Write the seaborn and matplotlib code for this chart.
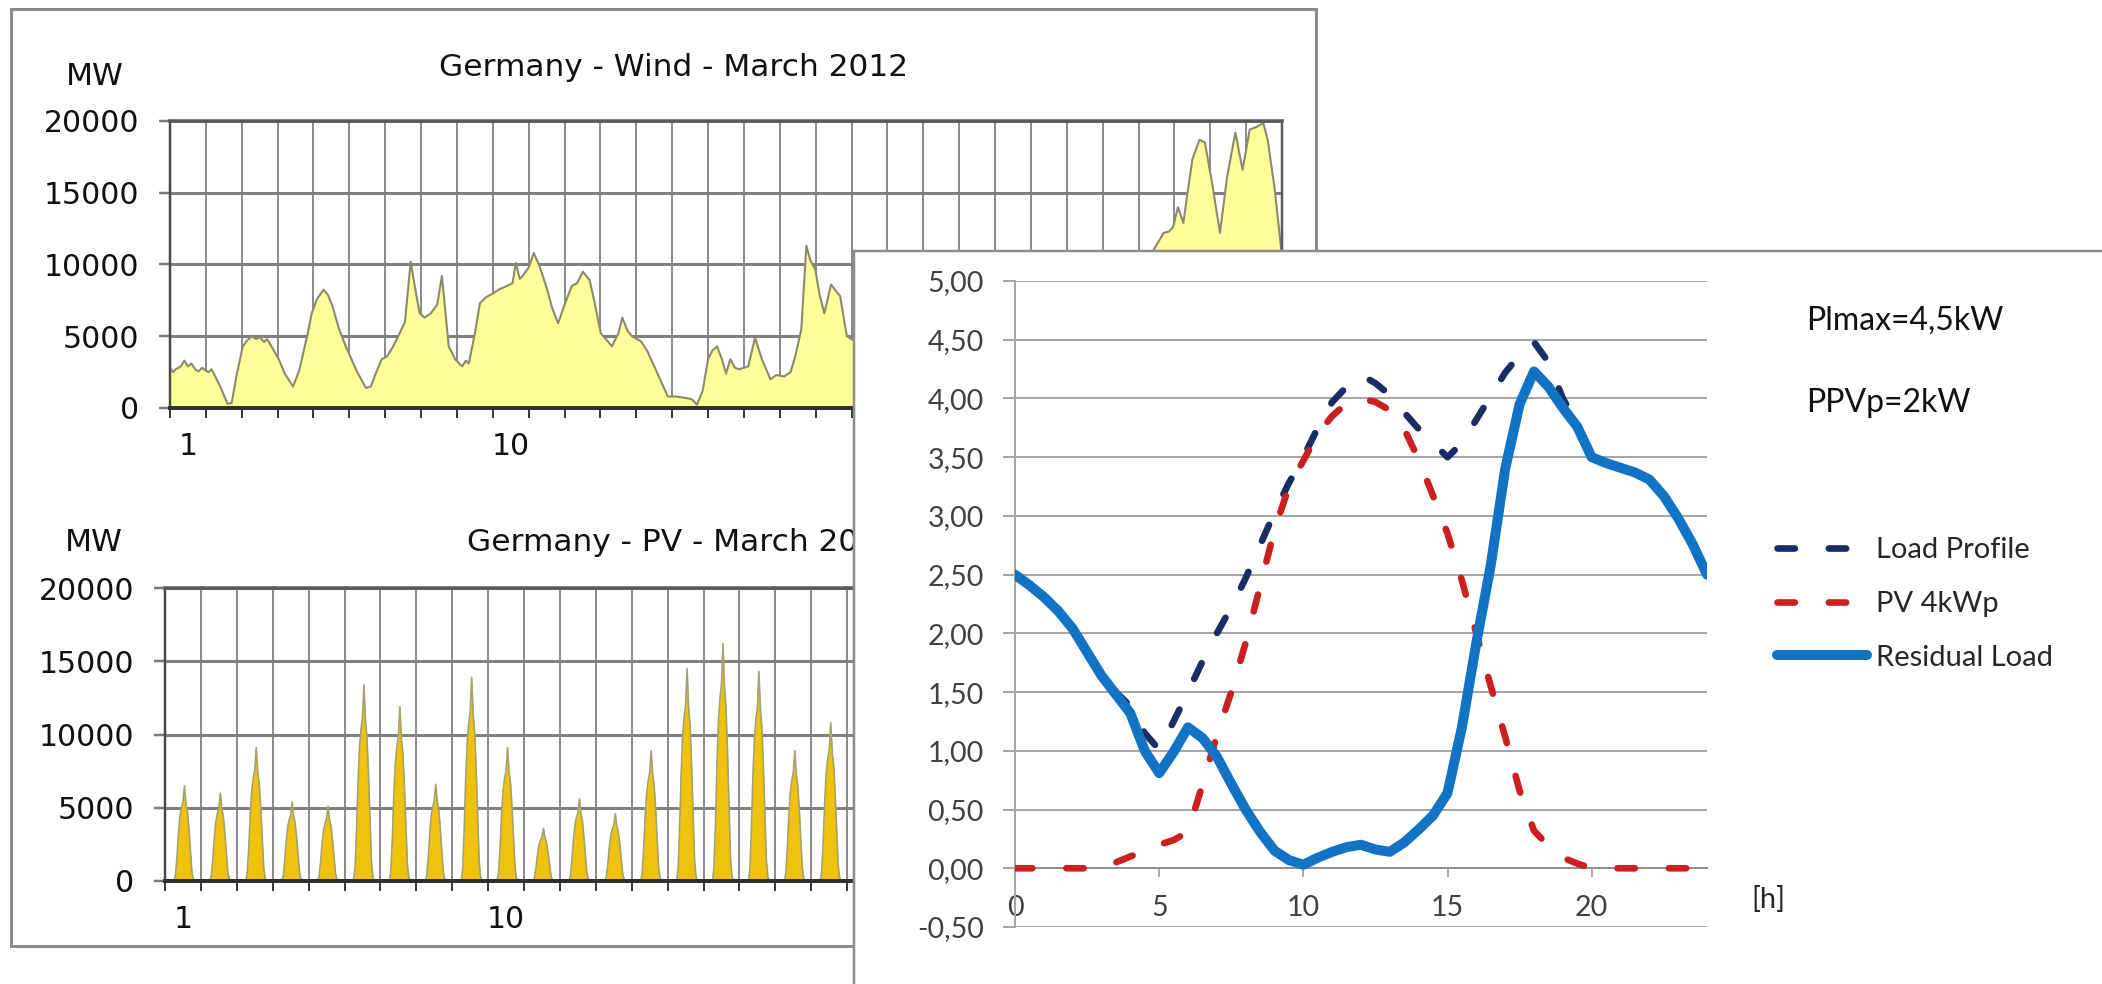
import numpy as np
import pandas as pd
import matplotlib
matplotlib.use("Agg")
import matplotlib.pyplot as plt
import seaborn as sns
from matplotlib.patches import Rectangle

# ---------------- data ----------------
# Germany wind, March 2012: position in days from start of month, MW
wind_day = [0.0, 0.08, 0.16, 0.3, 0.4, 0.5, 0.6, 0.7, 0.79, 0.9, 1.0, 1.08, 1.16, 1.4, 1.6, 1.72, 1.85,
            2.03, 2.15, 2.28, 2.4, 2.5, 2.62, 2.71, 2.85, 3.03, 3.2, 3.43, 3.6, 3.84, 3.95, 4.1, 4.28,
            4.4, 4.53, 4.7, 4.9, 5.2, 5.46, 5.6, 5.75, 5.9, 6.05, 6.2, 6.4, 6.55, 6.71, 6.8, 6.96, 7.1,
            7.27, 7.45, 7.58, 7.77, 7.95, 8.14, 8.25, 8.33, 8.5, 8.64, 8.8, 9.01, 9.2, 9.39, 9.55, 9.64,
            9.75, 9.83, 10.0, 10.14, 10.3, 10.51, 10.65, 10.82, 11.0, 11.2, 11.35, 11.51, 11.7, 11.85,
            12.01, 12.15, 12.32, 12.5, 12.61, 12.75, 12.88, 13.13, 13.3, 13.5, 13.7, 13.88, 14.1, 14.38,
            14.55, 14.69, 14.85, 15.0, 15.12, 15.25, 15.4, 15.5, 15.62, 15.75, 15.87, 16.0, 16.12, 16.31,
            16.5, 16.74, 16.9, 17.12, 17.3, 17.43, 17.6, 17.74, 17.85, 17.99, 18.1, 18.24, 18.43, 18.55,
            18.68, 18.87,
            19.2, 19.6, 20.1, 20.6, 21.2, 21.8, 22.4, 23.0, 23.6, 24.3, 24.9, 25.5, 26.2, 26.8, 27.3,
            27.7, 27.85, 27.96, 28.1, 28.25, 28.35, 28.5, 28.7, 28.85, 29.05, 29.27, 29.47, 29.7, 29.9,
            30.1, 30.3, 30.48, 30.6, 30.8, 31.0]
wind_mw = [2800, 2500, 2700, 2900, 3300, 2900, 3100, 2700, 2550, 2800, 2600, 2500, 2700, 1500, 300, 350,
           2200, 4300, 4700, 5000, 4800, 4950, 4600, 4800, 4200, 3400, 2400, 1500, 2600, 5200, 6600, 7600,
           8250, 7900, 7100, 5600, 4300, 2600, 1400, 1500, 2500, 3400, 3600, 4200, 5200, 6000, 10200,
           8800, 6600, 6300, 6600, 7200, 9200, 4300, 3400, 2900, 3300, 3100, 5200, 7300, 7700, 8000,
           8300, 8500, 8700, 10100, 9000, 9200, 9800, 10800, 9900, 8300, 7000, 5900, 7200, 8500, 8700,
           9500, 8900, 7200, 5200, 4800, 4300, 5200, 6300, 5400, 5000, 4650, 4000, 2900, 1800, 800, 800,
           700, 600, 230, 1200, 3400, 4000, 4300, 3300, 2400, 3400, 2800, 2700, 2800, 2900, 4900, 3400,
           2000, 2300, 2200, 2500, 3600, 5500, 11300, 10300, 9650, 8000, 6600, 8600, 8200, 7800, 5000,
           4500, 7000, 5500, 3000, 4500, 6500, 4000, 2500, 5000, 7500, 6000, 8000, 9500, 8500, 10500,
           12200, 12300, 12600, 14000, 12900, 14700, 17300, 18700, 18500, 15700, 12200, 16100, 19200,
           16600, 19400, 19600, 19850, 18700, 15200, 10500]

# Germany PV, March 2012: daily peak (MW) and typical hourly profile of a day
pv_daily_peak_mw = [6500, 6000, 9100, 5400, 5100, 13400, 11900, 6600, 13900, 9100, 3600, 5600, 4600,
                    8900, 14500, 16200, 14300, 8900, 10800, 12000, 9000, 7000, 11000, 13000, 6000,
                    8000, 14000, 15000, 12000, 10000, 9000]
pv_hour_shape = [0, 0, 0, 0, 0, 0, 0, 0.06, 0.25, 0.5, 0.68, 0.77, 0.83, 1.0, 0.82, 0.73, 0.55, 0.32,
                 0.1, 0.02, 0, 0, 0, 0]

wind_day_labels = [1, 10]
mw_ticks = [0, 5000, 10000, 15000, 20000]

# Household day profile (kW), every half hour from 0 to 24 h
hours = np.arange(0, 24.5, 0.5)
load_kw = [2.50, 2.41, 2.31, 2.19, 2.04, 1.84, 1.64, 1.50, 1.38, 1.15, 1.01, 1.25, 1.50, 1.76, 2.00,
           2.22, 2.47, 2.75, 3.03, 3.28, 3.50, 3.75, 3.97, 4.10, 4.20, 4.13, 4.03, 3.88, 3.74, 3.62,
           3.50, 3.62, 3.82, 4.02, 4.22, 4.37, 4.48, 4.31, 4.00, 3.78, 3.50, 3.45, 3.41, 3.37, 3.31,
           3.17, 2.98, 2.76, 2.50]
pv_kw = [0, 0, 0, 0, 0, 0, 0.00, 0.05, 0.10, 0.15, 0.20, 0.24, 0.31, 0.71, 1.13, 1.50, 1.92, 2.40,
         2.88, 3.25, 3.47, 3.70, 3.85, 3.96, 4.00, 3.97, 3.90, 3.74, 3.48, 3.17, 2.85, 2.45, 2.00, 1.55,
         1.12, 0.66, 0.32, 0.19, 0.09, 0.04, 0, 0, 0, 0, 0, 0, 0, 0, 0]
residual_kw = [2.50, 2.41, 2.31, 2.19, 2.04, 1.84, 1.64, 1.48, 1.32, 1.00, 0.81, 0.99, 1.20, 1.11, 0.95,
               0.72, 0.50, 0.31, 0.15, 0.07, 0.03, 0.09, 0.14, 0.18, 0.20, 0.16, 0.14, 0.22, 0.33, 0.45,
               0.64, 1.20, 1.92, 2.58, 3.40, 3.95, 4.23, 4.10, 3.92, 3.76, 3.50, 3.45, 3.41, 3.37, 3.31,
               3.17, 2.98, 2.76, 2.50]
ov_yticks = np.arange(-0.5, 5.01, 0.5)
ov_xticks = [0, 5, 10, 15, 20]

# ---------------- figure ----------------
sns.set_theme(style="white")
BG_FONT = ['DejaVu Sans']
OV_FONT = ['Lato', 'DejaVu Sans']
plt.rcParams['font.family'] = BG_FONT

W, H = 2102, 984
PX = 0.72  # points per pixel at dpi 100
fig = plt.figure(figsize=(W / 100, H / 100), dpi=100)
fig.patch.set_facecolor('white')


def X(px):
    return px / W


def Y(py):
    return 1 - py / H


def box(l, t, r, b):
    return [X(l), Y(b), X(r) - X(l), Y(t) - Y(b)]


# background slide frame
fig.add_artist(Rectangle((X(11), Y(946)), X(1316) - X(11), Y(9) - Y(946), transform=fig.transFigure,
                         fill=False, ec='#8c8c8c', lw=3 * PX, zorder=0.1))

ax_w = fig.add_axes(box(170, 121, 1282, 408), zorder=0.2)
ax_p = fig.add_axes(box(165, 588, 1278, 881), zorder=0.2)

# wind area
ax_w.fill_between(wind_day, wind_mw, 0, color='#FFFF99', lw=0, zorder=1)
sns.lineplot(x=wind_day, y=wind_mw, ax=ax_w, color='#8a8a6c', lw=1.5, zorder=2,
             sort=False, estimator=None)

# PV area (hourly)
pv_x = (np.arange(31)[:, None] + np.arange(24)[None, :] / 24.0).ravel()
pv_y = (np.array(pv_daily_peak_mw)[:, None] * np.array(pv_hour_shape)[None, :]).ravel()
ax_p.fill_between(pv_x, pv_y, 0, color='#F0C20E', lw=0, zorder=1)
sns.lineplot(x=pv_x, y=pv_y, ax=ax_p, color='#a3a36a', lw=1.2, zorder=2, sort=False, estimator=None)

for ax in (ax_w, ax_p):
    ax.set_xlim(0, 31)
    ax.set_ylim(0, 20000)
    ax.set_xticks(range(32))
    ax.set_xticklabels([])
    ax.set_xticks([d - 0.5 for d in wind_day_labels], minor=True)
    ax.set_xticklabels([str(d) for d in wind_day_labels], minor=True)
    ax.set_yticks(mw_ticks)
    ax.set_yticklabels([str(v) for v in mw_ticks])
    ax.set_xlabel('')
    ax.set_ylabel('')
    ax.set_axisbelow(True)
    ax.tick_params(axis='x', which='major', bottom=True, direction='out', length=10 * PX,
                   width=2 * PX, color='#3a3a3a')
    ax.tick_params(axis='x', which='minor', bottom=True, length=0, pad=24 * PX, labelsize=21.5,
                   labelcolor='#111111')
    ax.tick_params(axis='y', left=True, direction='out', length=11 * PX, width=2.5 * PX,
                   color='#7a7a7a', pad=20 * PX, labelsize=21.5, labelcolor='#111111')
    ax.grid(True, axis='x', which='major', color='#8c8c8c', lw=2 * PX)
    ax.grid(True, axis='y', which='major', color='#808080', lw=3 * PX)
    ax.patch.set_facecolor('white')
    ax.spines['top'].set_color('#5a5a5a')
    ax.spines['top'].set_linewidth(3.5 * PX)
    ax.spines['bottom'].set_color('#303030')
    ax.spines['bottom'].set_linewidth(4 * PX)
    ax.spines['left'].set_color('#4a4a4a')
    ax.spines['left'].set_linewidth(2.5 * PX)
    ax.spines['right'].set_color('#5a5a5a')
    ax.spines['right'].set_linewidth(2.5 * PX)

fig.text(X(439), Y(76), 'Germany - Wind - March 2012', fontsize=22.5, ha='left', va='baseline',
         color='#111111', zorder=0.3)
fig.text(X(95), Y(85), 'MW', fontsize=22.5, ha='center', va='baseline', color='#111111', zorder=0.3)
fig.text(X(467), Y(551), 'Germany - PV - March 2012', fontsize=22.5, ha='left', va='baseline',
         color='#111111', zorder=0.3)
fig.text(X(94), Y(551), 'MW', fontsize=22.5, ha='center', va='baseline', color='#111111', zorder=0.3)

# ---------------- overlay slide ----------------
fig.add_artist(Rectangle((X(854), Y(1300)), X(2400) - X(854), Y(251) - Y(1300),
                         transform=fig.transFigure, fc='white', ec='#8c8c8c', lw=2.5 * PX, zorder=1))

ax_o = fig.add_axes(box(1015, 281, 1707, 927), zorder=2)
ax_o.patch.set_visible(False)

NAVY, RED, BLUE = '#1B2C66', '#CC1F1F', '#1273C4'
dash = (0, (2.6, 5.1))
sns.lineplot(x=hours, y=load_kw, ax=ax_o, color=NAVY, lw=4.8, linestyle=dash, dash_capstyle='round',
             label='Load Profile', zorder=3)
sns.lineplot(x=hours, y=pv_kw, ax=ax_o, color=RED, lw=4.8, linestyle=dash, dash_capstyle='round',
             label='PV 4kWp', zorder=4)
sns.lineplot(x=hours, y=residual_kw, ax=ax_o, color=BLUE, lw=7.2, solid_capstyle='round',
             solid_joinstyle='round', label='Residual Load', zorder=5)

ax_o.set_xlim(0, 24)
ax_o.set_ylim(-0.5, 5.0)
ax_o.set_yticks(ov_yticks)
ax_o.set_yticklabels([f"{v:.2f}".replace('.', ',') for v in ov_yticks])
ax_o.set_xticks(ov_xticks)
ax_o.set_xticklabels([str(v) for v in ov_xticks])
ax_o.set_xlabel('')
ax_o.set_ylabel('')
ax_o.spines['bottom'].set_position(('data', 0))
ax_o.spines['top'].set_visible(False)
ax_o.spines['right'].set_visible(False)
ax_o.spines['left'].set_color('#a6a6a6')
ax_o.spines['left'].set_linewidth(2 * PX)
ax_o.spines['bottom'].set_color('#8f8f8f')
ax_o.spines['bottom'].set_linewidth(2 * PX)
ax_o.tick_params(axis='y', left=True, direction='out', length=12 * PX, width=2 * PX, color='#a6a6a6',
                 pad=19 * PX, labelsize=20.5, labelcolor='#404040')
ax_o.tick_params(axis='x', bottom=True, direction='out', length=9 * PX, width=1.5 * PX,
                 color='#8f8f8f', pad=18 * PX, labelsize=20.5, labelcolor='#404040')
ax_o.grid(True, axis='y', color='#a6a6a6', lw=2 * PX)
ax_o.grid(False, axis='x')
ax_o.set_axisbelow(True)
for lbl in ax_o.get_xticklabels() + ax_o.get_yticklabels():
    lbl.set_fontfamily(OV_FONT)

leg = ax_o.legend(loc='center left', bbox_to_anchor=(X(1777), Y(604)), bbox_transform=fig.transFigure,
                  frameon=False, prop={'family': OV_FONT, 'size': 21}, handlelength=3.1,
                  handletextpad=0.3, labelspacing=0.95, borderpad=0, borderaxespad=0)
for t in leg.get_texts():
    t.set_color('#262626')

fig.text(X(1806), Y(321), 'Plmax=4,5kW', fontsize=23, family=OV_FONT, ha='left', va='center',
         color='#111111', zorder=3)
fig.text(X(1806), Y(403), 'PPVp=2kW', fontsize=23, family=OV_FONT, ha='left', va='center',
         color='#111111', zorder=3)
fig.text(X(1768), Y(900), '[h]', fontsize=21, family=OV_FONT, ha='center', va='center',
         color='#262626', zorder=3)

fig.savefig('out.png', dpi=100, facecolor='white')
